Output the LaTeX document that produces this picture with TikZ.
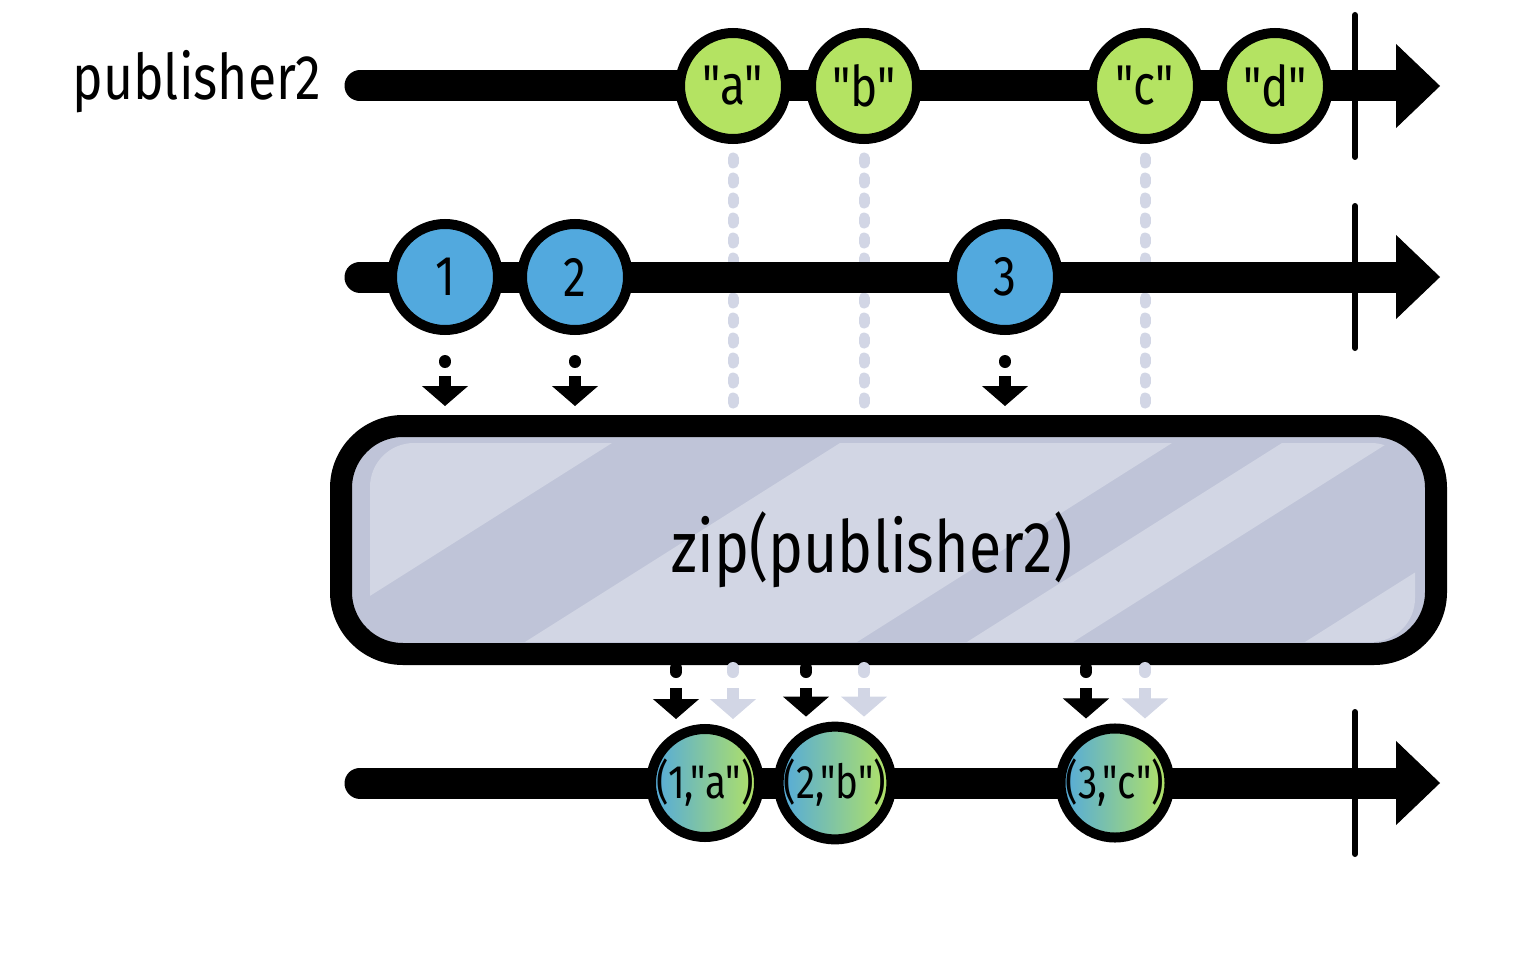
\documentclass[tikz,border=0pt]{standalone}
\usepackage{fontspec}
\newfontfamily\hand{Fira Sans}[FakeStretch=0.82]
\usepackage{tikz}
\usetikzlibrary{arrows.meta, positioning, calc, backgrounds}

\definecolor{ballgreen}{HTML}{B4E362}
\definecolor{ballblue}{HTML}{52A9DE}
\definecolor{boxdark}{HTML}{BFC4D8}
\definecolor{boxlight}{HTML}{D2D6E4}
\definecolor{ghost}{HTML}{D2D6E5}

\begin{document}
\begin{tikzpicture}[
  x=1pt, y=-1pt,
  marble/.style={circle, draw, line width=10pt, minimum size=106pt, inner sep=0pt, font=\hand\fontsize{56}{56}\selectfont},
  gmarble/.style={marble, fill=ballgreen},
  bmarble/.style={marble, fill=ballblue},
  zmarble/.style={marble, left color=ballblue, right color=ballgreen, font=\hand\fontsize{47}{47}\selectfont},
  timeline/.style={line width=31pt, line cap=round, -{Triangle[width=84pt,length=44pt,line width=1pt]}},
  endbar/.style={line width=6pt, line cap=round},
  dropdot/.style={line width=12pt, line cap=round},
  drop/.style={line width=12pt, -{Triangle[width=46pt,length=20pt,line width=1pt]}},
  ghostline/.style={ghost, line width=11pt, line cap=round, dash pattern=on 5pt off 15pt},
  zipbox/.style={draw, fill=boxdark, line width=22pt, rounded corners=62pt, minimum width=1095pt, minimum height=228pt, inner sep=0pt},
  lbl/.style={font=\hand\fontsize{63}{63}\selectfont},
  boxtext/.style={font=\hand\fontsize{72}{72}\selectfont},
]
\useasboundingbox (0,0) rectangle (1538,960);

\node[lbl, anchor=base east] (pub) at (325,100) {publisher2};

% source marbles
\node[gmarble] (a) at (733,86) {"a"};
\node[gmarble] (b) at (864,86) {"b"};
\node[gmarble] (c) at (1145,86) {"c"};
\node[gmarble] (d) at (1275,86) {"d"};
\node[bmarble] (one) at (445,277) {1};
\node[bmarble] (two) at (575,277) {2};
\node[bmarble] (three) at (1005,277) {3};

% operator
\node[zipbox] (zip) at (888.5,540) {};
\begin{scope}
  \clip[rounded corners=44pt] ($(zip.north west)+(40,28)$) rectangle ($(zip.south east)+(-32,-23)$);
  \fill[boxlight] (200,443) -- (612,443) -- (297,642) -- (200,642) -- cycle;
  \fill[boxlight] (840,443) -- (1172,443) -- (857,642) -- (525,642) -- cycle;
  \fill[boxlight] (1282,443) -- (1388,443) -- (1073,642) -- (967,642) -- cycle;
  \fill[boxlight] (1620,443) -- (1900,443) -- (1585,642) -- (1305,642) -- cycle;
\end{scope}
\node[boxtext] (zipname) at (872,550) {zip(publisher2)};

% result marbles
\node[zmarble] (ra) at (705,783) {(1,"a")};
\node[zmarble] (rb) at (835,783) {(2,"b")};
\node[zmarble] (rc) at (1115,783) {(3,"c")};

% into the operator
\foreach \m in {one,two,three} {
  \draw[dropdot] ($(\m.south)+(0,26)$) -- ++(0,1);
  \draw[drop] ($(\m.south)+(0,41)$) -- ($(\m|-zip.north)+(0,-9)$);
}

% out of the operator
\foreach \s/\r in {a/ra, b/rb, c/rc} {
  \draw[dropdot] ($(zip.south -| \r)+(-29,3)$) -- ++(0,4);
  \draw[drop] ($(zip.south -| \r)+(-29,23)$) -- ($(\r.north)+(-29,-5)$);
  \draw[dropdot, ghost] ($(zip.south -| \s)+(0,3)$) -- ++(0,4);
  \draw[drop, ghost] ($(zip.south -| \s)+(0,23)$) -- ($(\s |- \r.north)+(0,-5)$);
}

\begin{scope}[on background layer]
  \foreach \m in {a,b,c}
    \draw[ghostline] ($(\m.south)+(0,14)$) -- (\m |- zip.north);
  \coordinate (s1) at (360,86);  \coordinate (e1) at (1440,86);
  \coordinate (s2) at (360,277); \coordinate (e2) at (1440,277);
  \coordinate (s3) at (360,783); \coordinate (e3) at (1440,783);
  \foreach \i in {1,2,3} {
    \draw[timeline] (s\i) -- (e\i);
    \draw[endbar] ($(e\i)+(-85,-71)$) -- ($(e\i)+(-85,71)$);
  }
\end{scope}
\end{tikzpicture}
\end{document}
